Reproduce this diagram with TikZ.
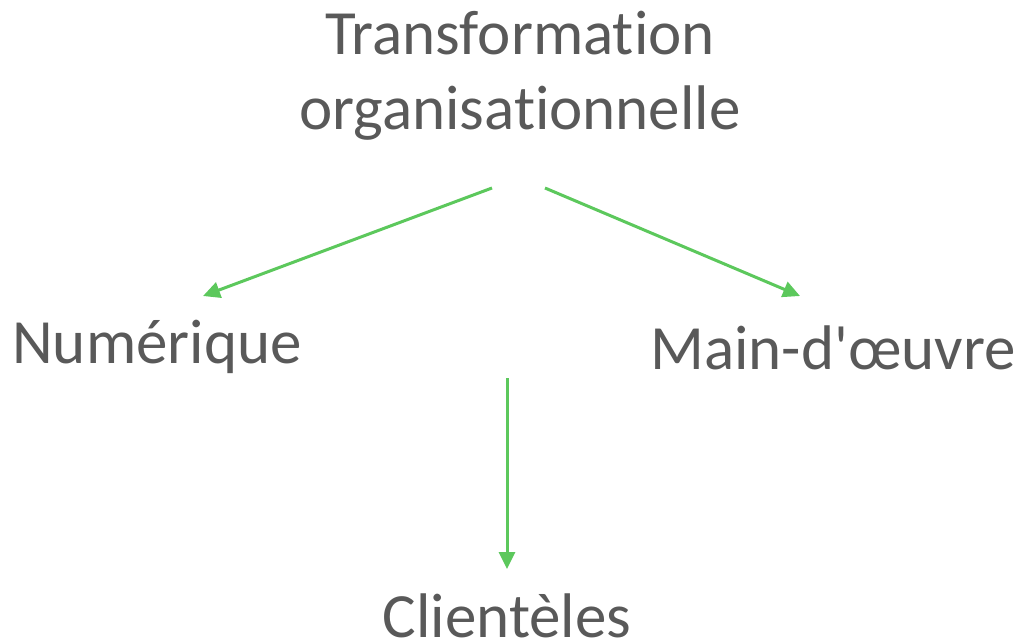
\documentclass[tikz,border=0pt]{standalone}
\usepackage{fontspec}
\setmainfont{Carlito}[Ligatures={NoCommon}]
\usetikzlibrary{arrows.meta}
\definecolor{labelgray}{RGB}{89,89,89}
\definecolor{linkgreen}{RGB}{92,200,92}
\begin{document}
\begin{tikzpicture}[x=1pt,y=-1pt,
  lbl/.style={text=labelgray,font=\fontsize{63}{75}\selectfont,inner sep=0pt,anchor=base,align=center},
  link/.style={draw=linkgreen,line width=3pt,-{Triangle[length=17pt,width=16pt]}}]
\useasboundingbox (0,0) rectangle (1020,642);
% labels (anchored at the baseline of their last line)
\node[lbl] (top) at (520,129) {Transformation\\organisationnelle};
\node[lbl] (num) at (157,363) {Numérique};
\node[lbl] (main) at (833,369) {Main-d\textquotesingle œuvre};
\node[lbl] (cli) at (507,637) {Clientèles};
% arrow end points
\coordinate (tl) at (492,188);
\coordinate (tr) at (545,188);
\coordinate (numend) at (203,296);
\coordinate (mainend) at (800,296);
\coordinate (cstart) at (507,378);
\coordinate (cend) at (507,569);
% connectors
\draw[link] (tl) -- (numend);
\draw[link] (tr) -- (mainend);
\draw[link] (cstart) -- (cend);
\end{tikzpicture}
\end{document}
